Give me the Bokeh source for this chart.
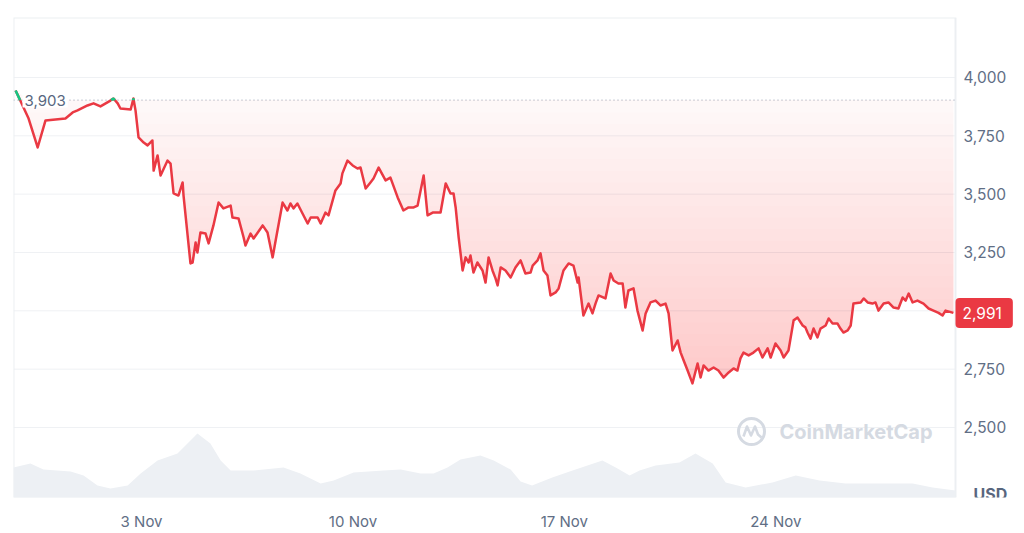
import numpy as np
from bokeh.plotting import figure
from bokeh.models import Range1d, FixedTicker, Label
from bokeh.core.properties import value
from bokeh.embed import file_html
from bokeh.resources import INLINE

# ---------------- data ----------------
# x: days after 1 Nov 00:00, price in USD
days = [-2.17, -1.74, -1.44, -1.18, -0.52, -0.28, -0.12, 0.21, 0.41, 0.64,
        0.97, 1.07, 1.21, 1.30, 1.64, 1.73, 1.80, 1.90, 2.07, 2.20,
        2.36, 2.40, 2.53, 2.63, 2.86, 2.96, 3.06, 3.22, 3.36, 3.39,
        3.62, 3.69, 3.79, 3.85, 3.95, 4.12, 4.22, 4.38, 4.55, 4.71,
        4.95, 5.01, 5.21, 5.38, 5.44, 5.61, 5.71, 6.01, 6.17, 6.34,
        6.44, 6.67, 6.83, 6.93, 7.03, 7.16, 7.33, 7.50, 7.60, 7.83,
        7.93, 8.09, 8.19, 8.42, 8.59, 8.65, 8.82, 8.99, 9.15, 9.25,
        9.42, 9.58, 9.68, 9.85, 10.08, 10.24, 10.48, 10.67, 10.84, 11.01,
        11.14, 11.34, 11.47, 11.64, 11.90, 12.07, 12.23, 12.33, 12.40, 12.50,
        12.63, 12.73, 12.83, 12.89, 12.99, 13.12, 13.29, 13.39, 13.49, 13.62,
        13.72, 13.79, 13.89, 14.05, 14.22, 14.38, 14.55, 14.71, 14.88, 14.95,
        15.11, 15.21, 15.31, 15.44, 15.54, 15.71, 15.81, 15.97, 16.14, 16.30,
        16.44, 16.47, 16.63, 16.80, 16.93, 17.03, 17.13, 17.36, 17.53, 17.63,
        17.79, 17.93, 18.02, 18.12, 18.29, 18.42, 18.59, 18.69, 18.85, 19.02,
        19.18, 19.35, 19.45, 19.58, 19.75, 19.85, 19.95, 20.08, 20.24, 20.41,
        20.51, 20.61, 20.77, 20.94, 21.10, 21.27, 21.44, 21.60, 21.73, 21.83,
        21.93, 22.10, 22.26, 22.43, 22.56, 22.73, 22.83, 22.99, 23.16, 23.26,
        23.42, 23.59, 23.72, 23.89, 23.98, 24.05, 24.15, 24.25, 24.38, 24.48,
        24.65, 24.75, 24.88, 25.04, 25.14, 25.24, 25.38, 25.48, 25.57, 25.81,
        25.91, 26.04, 26.20, 26.30, 26.40, 26.57, 26.73, 26.90, 27.06, 27.20,
        27.30, 27.40, 27.53, 27.69, 27.89, 28.06, 28.22, 28.39, 28.52, 28.62,
        28.88]
price = [3944, 3824, 3700, 3816, 3824, 3850, 3859, 3880, 3889, 3876,
         3901, 3910, 3889, 3867, 3863, 3910, 3859, 3743, 3721, 3709,
         3730, 3601, 3666, 3580, 3644, 3631, 3503, 3494, 3550, 3494,
         3203, 3207, 3293, 3250, 3336, 3331, 3289, 3366, 3464, 3439,
         3451, 3400, 3396, 3314, 3280, 3331, 3310, 3366, 3336, 3229,
         3301, 3464, 3430, 3460, 3439, 3460, 3417, 3374, 3400, 3400,
         3374, 3421, 3409, 3516, 3546, 3589, 3644, 3623, 3610, 3614,
         3524, 3550, 3567, 3614, 3559, 3571, 3486, 3430, 3443, 3443,
         3451, 3580, 3409, 3421, 3421, 3546, 3503, 3503, 3443, 3314,
         3173, 3229, 3207, 3237, 3164, 3207, 3173, 3121, 3229, 3173,
         3139, 3109, 3186, 3173, 3143, 3186, 3216, 3160, 3164, 3194,
         3216, 3246, 3173, 3151, 3066, 3079, 3096, 3173, 3203, 3194,
         3121, 3143, 2980, 3031, 2989, 3031, 3066, 3053, 3160, 3130,
         3117, 3117, 3014, 3087, 3096, 3001, 2916, 2989, 3036, 3044,
         3023, 3031, 2989, 2830, 2873, 2821, 2787, 2744, 2689, 2774,
         2714, 2766, 2744, 2757, 2744, 2714, 2736, 2753, 2744, 2796,
         2821, 2809, 2821, 2839, 2800, 2839, 2800, 2860, 2830, 2800,
         2830, 2959, 2971, 2937, 2929, 2907, 2881, 2924, 2886, 2924,
         2937, 2967, 2946, 2946, 2924, 2907, 2916, 2937, 3031, 3036,
         3053, 3036, 3031, 3036, 3001, 3031, 3036, 3014, 3010, 3057,
         3044, 3074, 3036, 3044, 3031, 3010, 3001, 2991, 2980, 3001,
         2991]

# trading volume (arbitrary units, billions USD)
vol_days = [-2.24, -1.68, -1.25, -0.35, 0.08, 0.54, 0.97, 1.54, 1.97, 2.53,
            3.19, 3.52, 3.85, 4.28, 4.62, 4.95, 5.71, 6.70, 7.26, 7.93,
            8.36, 9.02, 10.01, 10.58, 11.24, 11.67, 12.13, 12.56, 13.22, 13.66,
            14.22, 14.55, 14.93, 15.60, 16.27, 17.26, 17.70, 18.16, 18.49, 19.02,
            19.81, 20.34, 20.91, 21.34, 22.00, 22.89, 23.66, 24.45, 25.31, 26.43,
            27.53, 28.19, 28.95]
vol_bn = [15, 17, 14, 13, 11, 6, 4.5, 6, 12, 18.5,
          22, 27, 32, 27, 18.5, 13.5, 13.5, 15, 12, 7,
          8.5, 12.5, 13.5, 14, 12, 12, 15, 19, 21, 18.5,
          14, 8, 6, 10, 13.5, 18.5, 15, 11, 13.5, 16,
          17.5, 22, 17, 7.5, 5, 7.5, 11, 8.5, 7, 7,
          7, 5, 3.5]

baseline_price = 3903
last_price = 2991
y_ticks = [2500, 2750, 3000, 3250, 3500, 3750, 4000]
y_tick_labels = ["2,500", "2,750", "3,000", "3,250", "3,500", "3,750", "4,000"]
x_ticks = [2, 9, 16, 23]
x_tick_labels = ["3 Nov", "10 Nov", "17 Nov", "24 Nov"]

# ---------------- styling ----------------
RED = "#ea3943"
GREEN = "#16c784"
GREY_TXT = "#616e85"
FONT = "Inter"
GRID = "#eff1f4"

X0, X1 = -2.24, 28.95          # chart area (plot box) in days
Y0, Y1 = 2200, 4257
CW, FH = 942, 480              # chart area size in px
BL, BT, BB = 13, 17, 36
FW = 1024 - BL                 # frame reaches the right edge (price scale lives inside)
ppd = CW / (X1 - X0)           # px per day
ppu = FH / (Y1 - Y0)           # px per USD
XE = X0 + FW / ppd

p = figure(frame_width=FW, frame_height=FH,
           x_range=Range1d(X0, XE), y_range=Range1d(Y0, Y1),
           y_axis_location=None, output_backend="svg", toolbar_location=None,
           min_border_left=BL, min_border_top=BT, min_border_right=0, min_border_bottom=BB,
           background_fill_color="white", border_fill_color="white",
           outline_line_color=None)
p.xgrid.visible = False
p.ygrid.visible = False

ax = p.xaxis[0]
ax.axis_line_color = None
ax.major_tick_line_color = None
ax.minor_tick_line_color = None
ax.major_label_text_font = FONT
ax.major_label_text_font_size = "15px"
ax.major_label_text_color = GREY_TXT
ax.ticker = FixedTicker(ticks=x_ticks)
ax.major_label_overrides = dict(zip(x_ticks, x_tick_labels))
ax.major_label_standoff = 8

# horizontal grid lines and box of the chart area
p.segment(x0=X0, x1=X1, y0=y_ticks, y1=y_ticks, line_color=GRID, line_width=1)
p.quad(left=X0, right=X1, bottom=Y0, top=Y1, fill_color=None,
       line_color="#eceff2", line_width=2)

# price scale labels (right side)
p.text(x=[X1] * len(y_ticks), y=y_ticks, text=y_tick_labels, x_offset=8,
       text_font=value(FONT), text_font_size="15.5px", text_color=GREY_TXT,
       text_baseline="middle", text_align="left")

# volume area
p.extra_y_ranges = {"vol": Range1d(0, 240)}
p.varea(x=vol_days, y1=0, y2=vol_bn, y_range_name="vol",
        fill_color="#edf0f4", fill_alpha=1)

# baseline dotted line
p.segment(x0=X0, x1=X1, y0=baseline_price, y1=baseline_price, line_color="#a7b0c0",
          line_dash="1 3", line_width=1.4)

# gradient fill between price line and baseline (stacked translucent layers)
pr = np.array(price, dtype=float)
dx = np.array(days, dtype=float)
p.varea(x=dx, y1=pr, y2=np.maximum(pr, baseline_price), fill_color=RED, fill_alpha=0.035)
for lvl in np.arange(3850, 2640, -50):
    p.varea(x=dx, y1=pr, y2=np.maximum(pr, lvl), fill_color=RED, fill_alpha=0.010)

# price line (red) and above-baseline parts (green)
p.line(dx, pr, line_color=RED, line_width=2.5, line_join="round")

gx, gy = [], []
cx, cy = [], []
for i in range(len(pr)):
    if pr[i] >= baseline_price:
        if not cx and i > 0 and pr[i - 1] < baseline_price:
            t = (baseline_price - pr[i - 1]) / (pr[i] - pr[i - 1])
            cx.append(dx[i - 1] + t * (dx[i] - dx[i - 1])); cy.append(baseline_price)
        cx.append(dx[i]); cy.append(pr[i])
        if i + 1 < len(pr) and pr[i + 1] < baseline_price:
            t = (pr[i] - baseline_price) / (pr[i] - pr[i + 1])
            cx.append(dx[i] + t * (dx[i + 1] - dx[i])); cy.append(baseline_price)
            gx.append(cx); gy.append(cy); cx, cy = [], []
if cx:
    gx.append(cx); gy.append(cy)
p.multi_line(gx, gy, line_color=GREEN, line_width=2.5)

# watermark
wm_x = X0 + (751 - BL) / ppd
wm_y = Y1 - (431 - BT) / ppu
p.scatter(x=[wm_x], y=[wm_y], size=26, marker="circle", fill_color=None,
          line_color="#d5dae2", line_width=3)
m_dx = [-8, -4.5, -0.5, 3.5, 6.5, 10]
m_dy = [5, -5, 4, -5, 3, 6]
p.line([wm_x + a / ppd for a in m_dx], [wm_y - b / ppu for b in m_dy],
       line_color="#d5dae2", line_width=2.6, line_join="round")
p.add_layout(Label(x=wm_x, y=wm_y, x_offset=28, text="CoinMarketCap", text_font=FONT,
                   text_font_size="20px", text_font_style="bold", text_color="#d5dae2",
                   text_baseline="middle", text_align="left"))

# start price label
p.add_layout(Label(x=X0 + 9 / ppd, y=baseline_price, text="3,903", text_font=FONT,
                   text_font_size="15px", text_color="#58667e", text_baseline="middle",
                   text_align="left", background_fill_color="white", background_fill_alpha=1,
                   padding=2))

# last price tag
p.add_layout(Label(x=X1, y=last_price, text="2,991", text_font=FONT, text_font_size="15.5px",
                   text_color="white", text_baseline="middle", text_align="left",
                   background_fill_color=RED, background_fill_alpha=1,
                   padding=dict(left=7, right=11, top=9, bottom=9),
                   border_radius=4))

# currency label
p.add_layout(Label(x=X1, y=Y0 + 4 / ppu, x_offset=18, text="USD", text_font=FONT,
                   text_font_size="16px", text_font_style="bold", text_color="#58667e",
                   text_baseline="middle", text_align="left"))

open("out.html", "w").write(file_html(p, INLINE, title="chart"))
